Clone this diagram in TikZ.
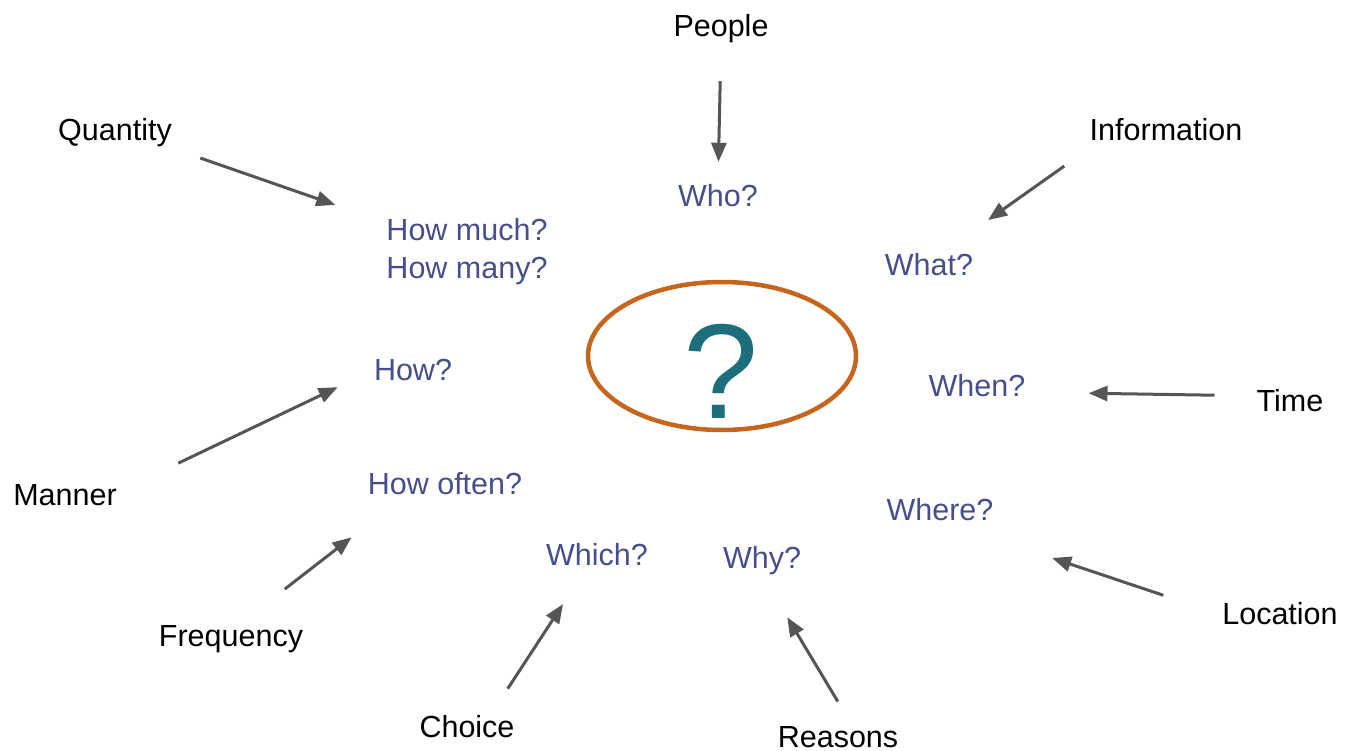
\documentclass[tikz,border=0pt]{standalone}
\usepackage{fontspec}
\setmainfont{Liberation Sans}
\usepackage{xcolor}
\usetikzlibrary{arrows.meta}
\definecolor{qblue}{RGB}{70,78,140}
\definecolor{qteal}{RGB}{28,110,125}
\definecolor{qorange}{RGB}{198,102,28}
\definecolor{qgray}{RGB}{85,85,85}

\begin{document}
\begin{tikzpicture}[x=1pt, y=-1pt,
  word/.style={font=\fontsize{30.5}{38}\selectfont, inner sep=0pt},
  topic/.style={word, text height=23pt, text depth=7pt},
  ask/.style={topic, text=qblue},
  pointer/.style={-{Triangle[length=19pt,width=15pt]}, line width=3pt, qgray}]
  \useasboundingbox (0,0) rectangle (1356,751);

  % the hub
  \draw[qorange, line width=4.5pt] (722,356) ellipse [x radius=134, y radius=74];
  \node[inner sep=0pt, text=qteal, font=\fontsize{135}{140}\selectfont] (mark) at (721,371) {?};

  % topics
  \node[topic] (people) at (721,29) {People};
  \node[topic] (info) at (1166,133) {Information};
  \node[topic] (quantity) at (115,133) {Quantity};
  \node[topic] (time) at (1290,403) {Time};
  \node[topic] (manner) at (65,497) {Manner};
  \node[topic] (freq) at (231,638) {Frequency};
  \node[topic] (loc) at (1280,616) {Location};
  \node[topic] (choice) at (467,729) {Choice};
  \node[topic] (reasons) at (838,739) {Reasons};

  % questions
  \node[ask] (who) at (718,199) {Who?};
  \node[ask] (what) at (929,267) {What?};
  \node[word, text=qblue, align=center] (much) at (467,252) {How much?\\How many?};
  \node[ask] (how) at (413,372) {How?};
  \node[ask] (when) at (977,388) {When?};
  \node[ask] (often) at (445,486) {How often?};
  \node[ask] (where) at (940,512) {Where?};
  \node[ask] (which) at (597,557) {Which?};
  \node[ask] (why) at (762,560) {Why?};

  \draw[pointer, shorten <=37pt, shorten >=22pt] (people.south) -- (who.north);
  \draw[pointer, shorten <=31pt, shorten >=55pt] (info.south west) -- (what.47);
  \draw[pointer, shorten <=30pt, shorten >=54pt] (quantity.south east) -- (much.160);
  \draw[pointer, shorten <=42pt, shorten >=63pt] (time.168) -- (when.355);
  \draw[pointer, shorten <=68pt, shorten >=40pt] (manner.5) -- (how.177);
  \draw[pointer, shorten <=55pt, shorten >=59pt] (freq.56) -- (often.198);
  \draw[pointer, shorten <=62pt, shorten >=97pt] (loc.179) -- (where.323);
  \draw[pointer, shorten <=30pt, shorten >=38pt] (choice.32) -- (which.229);
  \draw[pointer, shorten <=26pt, shorten >=49pt] (reasons.49) -- (why.south);
\end{tikzpicture}
\end{document}
